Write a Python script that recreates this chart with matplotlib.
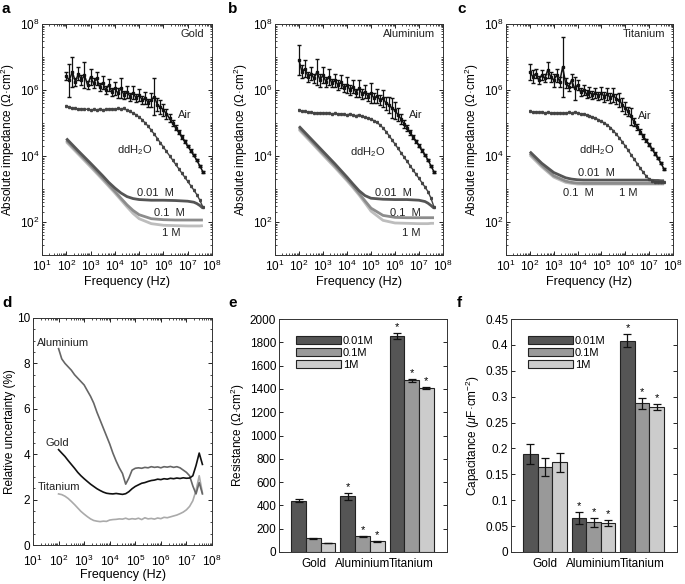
import numpy as np
import matplotlib
matplotlib.use('Agg')
import matplotlib.pyplot as plt
from matplotlib.ticker import LogLocator, NullFormatter, MultipleLocator, FixedLocator

plt.rcParams['font.family'] = ['Liberation Sans', 'DejaVu Sans']
plt.rcParams['mathtext.fontset'] = 'custom'
plt.rcParams['mathtext.rm'] = 'Liberation Sans'
plt.rcParams['mathtext.it'] = 'Liberation Sans:italic'
plt.rcParams['font.size'] = 8

# ---- data -------------------------------------------------------------
# measurement grid (Hz), 8 points per decade
freq = [100, 133, 178, 237, 316, 422, 562, 750,
        1e3, 1.33e3, 1.78e3, 2.37e3, 3.16e3, 4.22e3, 5.62e3, 7.5e3,
        1e4, 1.33e4, 1.78e4, 2.37e4, 3.16e4, 4.22e4, 5.62e4, 7.5e4,
        1e5, 1.33e5, 1.78e5, 2.37e5, 3.16e5, 4.22e5, 5.62e5, 7.5e5,
        1e6, 1.33e6, 1.78e6, 2.37e6, 3.16e6, 4.22e6, 5.62e6, 7.5e6,
        1e7, 1.33e7, 1.78e7, 2.37e7, 3.16e7, 4.22e7]
# coarser grid for the smooth electrolyte curves
freq_el = [100, 316, 1e3, 3.16e3, 5.62e3, 1e4, 1.78e4, 3.16e4, 5.62e4,
           1e5, 3.16e5, 1e6, 3.16e6, 1e7, 1.78e7, 2.37e7, 3.16e7, 4.22e7]

# log10 |Z| (Ohm.cm2), error bars in decades
air_gold = [6.42, 6.30, 6.55, 6.25, 6.50, 6.30, 6.45, 6.15, 6.40, 6.20, 6.35, 6.10,
            6.22, 6.00, 6.15, 5.95, 6.05, 5.90, 6.05, 5.85, 5.95, 5.80, 5.92, 5.75,
            5.85, 5.70, 5.75, 5.62, 5.70, 5.80, 5.55, 5.48, 5.40, 5.28, 5.14, 5.00,
            4.86, 4.72, 4.58, 4.44, 4.30, 4.16, 4.02, 3.87, 3.70, 3.52]
air_gold_err = [0.12, 0.50, 0.45, 0.12, 0.20, 0.15, 0.40, 0.12, 0.25, 0.15, 0.20, 0.12,
                0.20, 0.12, 0.18, 0.12, 0.20, 0.15, 0.30, 0.12, 0.18, 0.12, 0.20, 0.12,
                0.18, 0.12, 0.18, 0.12, 0.20, 0.55, 0.20, 0.22, 0.18, 0.15, 0.12, 0.08,
                0.07, 0.06, 0.05, 0.05, 0.04, 0.04, 0.03, 0.03, 0.03, 0.03]
air_alu = [6.90, 6.55, 6.65, 6.40, 6.50, 6.35, 6.55, 6.30, 6.45, 6.25, 6.40, 6.20,
           6.30, 6.15, 6.25, 6.05, 6.15, 6.00, 6.10, 5.92, 6.05, 5.88, 5.95, 5.80,
           5.90, 5.75, 5.82, 5.70, 5.75, 5.60, 5.55, 5.45, 5.38, 5.25, 5.12, 4.98,
           4.85, 4.72, 4.58, 4.45, 4.31, 4.17, 4.03, 3.88, 3.70, 3.52]
air_alu_err = [0.45, 0.20, 0.25, 0.15, 0.20, 0.15, 0.40, 0.20, 0.25, 0.15, 0.25, 0.12,
               0.20, 0.15, 0.20, 0.12, 0.25, 0.15, 0.20, 0.12, 0.25, 0.15, 0.20, 0.12,
               0.30, 0.15, 0.20, 0.15, 0.25, 0.20, 0.25, 0.30, 0.25, 0.20, 0.15, 0.12,
               0.10, 0.08, 0.06, 0.05, 0.05, 0.04, 0.04, 0.03, 0.03, 0.03]
air_ti = [6.55, 6.40, 6.50, 6.30, 6.45, 6.35, 6.60, 6.40, 6.30, 6.45, 6.25, 6.70,
          6.20, 6.10, 6.30, 6.05, 6.15, 5.95, 6.00, 5.88, 5.95, 5.85, 5.92, 5.82,
          5.90, 5.80, 5.88, 5.75, 5.85, 5.72, 5.70, 5.55, 5.45, 5.35, 5.20, 5.02,
          4.88, 4.74, 4.60, 4.47, 4.34, 4.21, 4.07, 3.93, 3.78, 3.60]
air_ti_err = [0.25, 0.20, 0.15, 0.12, 0.15, 0.12, 0.25, 0.15, 0.20, 0.20, 0.15, 0.90,
              0.15, 0.12, 0.20, 0.35, 0.15, 0.12, 0.15, 0.12, 0.15, 0.12, 0.15, 0.12,
              0.18, 0.15, 0.18, 0.15, 0.20, 0.15, 0.20, 0.20, 0.18, 0.15, 0.25, 0.12,
              0.10, 0.08, 0.07, 0.05, 0.05, 0.04, 0.04, 0.03, 0.03, 0.03]

ddh2o_gold = [5.52, 5.48, 5.45, 5.44, 5.42, 5.43, 5.41, 5.42, 5.40, 5.41, 5.40, 5.42,
              5.40, 5.41, 5.42, 5.43, 5.41, 5.44, 5.42, 5.45, 5.38, 5.35, 5.30, 5.25,
              5.18, 5.10, 5.00, 4.90, 4.78, 4.66, 4.53, 4.40, 4.27, 4.14, 4.01, 3.88,
              3.75, 3.62, 3.49, 3.36, 3.23, 3.10, 2.97, 2.83, 2.66, 2.45]
ddh2o_alu = [5.40, 5.36, 5.35, 5.33, 5.32, 5.31, 5.30, 5.31, 5.30, 5.29, 5.30, 5.28,
             5.29, 5.27, 5.28, 5.26, 5.25, 5.27, 5.24, 5.22, 5.25, 5.20, 5.17, 5.15,
             5.12, 5.07, 5.02, 4.94, 4.85, 4.74, 4.62, 4.49, 4.36, 4.23, 4.10, 3.97,
             3.84, 3.71, 3.58, 3.45, 3.32, 3.19, 3.06, 2.92, 2.72, 2.45]
ddh2o_ti = [5.35, 5.33, 5.34, 5.32, 5.33, 5.31, 5.32, 5.30, 5.31, 5.30, 5.31, 5.29,
            5.30, 5.32, 5.29, 5.33, 5.30, 5.28, 5.27, 5.25, 5.22, 5.18, 5.15, 5.10,
            5.05, 5.00, 4.94, 4.86, 4.77, 4.66, 4.55, 4.43, 4.30, 4.17, 4.03, 3.90,
            3.77, 3.63, 3.51, 3.39, 3.30, 3.25, 3.22, 3.21, 3.20, 3.20]
ddh2o_err = 0.03

gold_001 = [4.53, 4.15, 3.78, 3.40, 3.20, 3.03, 2.88, 2.77, 2.71, 2.68, 2.66, 2.66, 2.65, 2.63, 2.60, 2.56, 2.50, 2.42]
gold_01 = [4.48, 4.10, 3.72, 3.33, 3.13, 2.93, 2.72, 2.52, 2.35, 2.22, 2.10, 2.07, 2.06, 2.06, 2.06, 2.06, 2.06, 2.06]
gold_1 = [4.43, 4.05, 3.67, 3.28, 3.08, 2.88, 2.67, 2.46, 2.26, 2.10, 1.95, 1.90, 1.89, 1.88, 1.88, 1.88, 1.88, 1.89]
alu_001 = [4.90, 4.52, 4.14, 3.76, 3.56, 3.36, 3.15, 2.95, 2.80, 2.72, 2.69, 2.68, 2.68, 2.66, 2.62, 2.57, 2.50, 2.42]
alu_01 = [4.85, 4.47, 4.08, 3.70, 3.50, 3.30, 3.09, 2.87, 2.64, 2.42, 2.20, 2.14, 2.13, 2.13, 2.13, 2.13, 2.13, 2.13]
alu_1 = [4.80, 4.42, 4.03, 3.65, 3.45, 3.25, 3.04, 2.82, 2.58, 2.33, 2.05, 1.97, 1.96, 1.95, 1.95, 1.95, 1.96, 1.96]
ti_001 = [4.13, 3.78, 3.50, 3.34, 3.30, 3.28, 3.27, 3.27, 3.27, 3.27, 3.27, 3.27, 3.27, 3.27, 3.26, 3.26, 3.25, 3.25]
ti_01 = [4.08, 3.72, 3.40, 3.24, 3.20, 3.18, 3.17, 3.17, 3.17, 3.17, 3.17, 3.17, 3.17, 3.17, 3.17, 3.17, 3.17, 3.17]
ti_1 = [4.03, 3.67, 3.36, 3.20, 3.17, 3.15, 3.15, 3.15, 3.15, 3.15, 3.15, 3.15, 3.15, 3.15, 3.15, 3.15, 3.15, 3.15]

# relative uncertainty (%)
unc_alu = [8.65, 8.20, 8.00, 7.85, 7.70, 7.50, 7.35, 7.20, 7.05, 6.80, 6.55, 6.25,
           5.85, 5.50, 5.15, 4.80, 4.45, 4.05, 3.70, 3.40, 3.15, 2.68, 2.95, 3.30,
           3.38, 3.40, 3.38, 3.42, 3.40, 3.45, 3.42, 3.44, 3.40, 3.45, 3.43, 3.46,
           3.42, 3.45, 3.40, 3.30, 3.20, 3.05, 2.60, 2.25, 2.75, 2.25]
unc_gold = [4.20, 4.05, 3.90, 3.72, 3.55, 3.38, 3.20, 3.05, 2.92, 2.80, 2.68, 2.58,
            2.48, 2.40, 2.33, 2.28, 2.26, 2.25, 2.27, 2.25, 2.23, 2.26, 2.35, 2.48,
            2.58, 2.65, 2.72, 2.75, 2.80, 2.84, 2.86, 2.90, 2.88, 2.92, 2.90, 2.94,
            2.92, 2.95, 2.93, 2.96, 2.94, 2.95, 3.05, 3.50, 4.05, 3.55]
unc_ti = [2.25, 2.22, 2.15, 2.05, 1.92, 1.78, 1.63, 1.48, 1.36, 1.25, 1.15, 1.08,
          1.05, 1.03, 1.05, 1.04, 1.10, 1.12, 1.13, 1.15, 1.14, 1.18, 1.13, 1.16,
          1.14, 1.18, 1.12, 1.20, 1.15, 1.17, 1.14, 1.19, 1.16, 1.22, 1.20, 1.24,
          1.28, 1.32, 1.38, 1.45, 1.55, 1.70, 1.95, 2.40, 3.05, 2.30]

metals = ['Gold', 'Aluminium', 'Titanium']
conc_labels = ['0.01M', '0.1M', '1M']
res_001 = [440, 480, 1855]
res_001_err = [15, 30, 25]
res_01 = [118, 135, 1475]
res_01_err = [3, 5, 12]
res_1 = [77, 91, 1405]
res_1_err = [3, 5, 8]
cap_001 = [0.189, 0.066, 0.408]
cap_001_err = [0.019, 0.011, 0.013]
cap_01 = [0.164, 0.057, 0.287]
cap_01_err = [0.018, 0.008, 0.010]
cap_1 = [0.173, 0.056, 0.280]
cap_1_err = [0.019, 0.006, 0.005]
significant = [False, True, True]

# ---- figure -------------------------------------------------------------
W, H = 685, 584
fig = plt.figure(figsize=(W / 100, H / 100), dpi=100)


def axes_px(left, right, top, bottom):
    return fig.add_axes([left / W, 1 - bottom / H, (right - left) / W, (bottom - top) / H])


def style_log_x(ax):
    ax.set_xscale('log')
    ax.set_xlim(1e1, 1e8)
    ax.xaxis.set_major_locator(FixedLocator([10.0 ** k for k in range(1, 9)]))
    ax.xaxis.set_minor_locator(LogLocator(base=10, subs=np.arange(2, 10), numticks=20))
    ax.xaxis.set_minor_formatter(NullFormatter())
    ax.set_xlabel('Frequency (Hz)', fontsize=9, labelpad=1)


def frame(ax):
    ax.tick_params(which='both', direction='in', top=True, right=True, labelsize=8.5, pad=2)
    ax.tick_params(which='major', length=3, width=0.6)
    ax.tick_params(which='minor', length=1.5, width=0.5)
    for s in ax.spines.values():
        s.set_linewidth(0.7)
        s.set_color('#333333')


def log_err(vals, errs):
    v = 10.0 ** np.array(vals)
    e = np.array(errs)
    return v, [v - v / 10.0 ** e, v * 10.0 ** e - v]


def impedance(ax, air, air_err, ddh2o, el, name, lab):
    style_log_x(ax)
    ax.set_yscale('log')
    ax.set_ylim(1e1, 1e8)
    ax.yaxis.set_major_locator(FixedLocator([1e2, 1e4, 1e6, 1e8]))
    ax.yaxis.set_minor_locator(LogLocator(base=10, subs=np.arange(1, 10), numticks=20))
    ax.yaxis.set_minor_formatter(NullFormatter())
    ax.set_ylabel('Absolute impedance (Ω·cm$^2$)', fontsize=8.5, labelpad=2)
    frame(ax)
    ax.tick_params(axis='x', pad=3)
    cols = ['#555555', '#8c8c8c', '#bdbdbd']
    for series, c in zip(el[::-1], cols[::-1]):
        ax.plot(freq_el, 10.0 ** np.array(series), color=c, lw=2.0, solid_capstyle='butt')
    v, e = log_err(ddh2o, [ddh2o_err] * len(ddh2o))
    ax.errorbar(freq, v, yerr=e, color='#444444', lw=1.0, elinewidth=0.6, capsize=1.0,
                marker='s', ms=1.2)
    v, e = log_err(air, air_err)
    ax.errorbar(freq, v, yerr=e, color='#111111', lw=1.1, elinewidth=0.9, capsize=1.6,
                marker='s', ms=1.5)
    ax.text(0.955, 0.955, name, transform=ax.transAxes, ha='right', va='center',
            fontsize=8, color='#222222')
    for txt, (lx, ly) in lab.items():
        ax.text(10 ** lx, 10 ** ly, txt, ha='left', va='center', fontsize=8, color='#222222')


ax_a = axes_px(42, 212, 24, 255)
impedance(ax_a, air_gold, air_gold_err, ddh2o_gold, [gold_001, gold_01, gold_1], 'Gold',
          {'Air': (6.6, 5.24), 'ddH$_2$O': (4.1, 4.18), '0.01  M': (4.9, 2.88),
           '0.1  M': (5.6, 2.27), '1 M': (5.95, 1.67)})
ax_b = axes_px(275, 443, 24, 255)
impedance(ax_b, air_alu, air_alu_err, ddh2o_alu, [alu_001, alu_01, alu_1], 'Aluminium',
          {'Air': (6.6, 5.24), 'ddH$_2$O': (4.13, 4.12), '0.01  M': (5.15, 2.88),
           '0.1  M': (5.8, 2.27), '1 M': (6.3, 1.67)})
ax_c = axes_px(506, 673, 24, 255)
impedance(ax_c, air_ti, air_ti_err, ddh2o_ti, [ti_001, ti_01, ti_1], 'Titanium',
          {'Air': (6.55, 5.2), 'ddH$_2$O': (4.07, 4.18), '0.01  M': (4.03, 3.48),
           '0.1  M': (3.4, 2.88), '1 M': (5.73, 2.88)})

# d: relative uncertainty
ax_d = axes_px(33, 212, 318, 545)
style_log_x(ax_d)
ax_d.set_ylim(0, 10)
ax_d.yaxis.set_major_locator(MultipleLocator(2))
ax_d.yaxis.set_minor_locator(MultipleLocator(0.5))
ax_d.set_ylabel('Relative uncertainty (%)', fontsize=8.5, labelpad=1)
ax_d.set_xlabel('Frequency (Hz)', fontsize=9, labelpad=0)
frame(ax_d)
ax_d.tick_params(axis='x', pad=6)
ax_d.tick_params(axis='y', labelsize=8.5)
ax_d.plot(freq, unc_ti, color='#aaaaaa', lw=1.2)
ax_d.plot(freq, unc_alu, color='#666666', lw=1.2)
ax_d.plot(freq, unc_gold, color='#111111', lw=1.2)
ax_d.text(10 ** 1.16, 8.9, 'Aluminium', fontsize=8, color='#222222', va='center')
ax_d.text(10 ** 1.5, 4.5, 'Gold', fontsize=8, color='#222222', va='center')
ax_d.text(10 ** 1.18, 2.55, 'Titanium', fontsize=8, color='#222222', va='center')

bar_cols = ['#555555', '#999999', '#cccccc']
x = np.arange(1, 4)


def bars(ax, means, errs, ylabel, ymax, step, star_pad, fmt):
    ax.set_xlim(0.3, 3.72)
    ax.set_ylim(0, ymax)
    handles = []
    for k, (m, e, c) in enumerate(zip(means, errs, bar_cols)):
        xs = x + (k - 1) * 0.3
        h = ax.bar(xs, m, width=0.3, color=c, edgecolor='#222222', linewidth=0.8,
                   label=conc_labels[k])
        ax.errorbar(xs, m, yerr=e, fmt='none', ecolor='#111111', elinewidth=0.9, capsize=3,
                    capthick=0.9)
        for xi, mi, ei, s in zip(xs, m, e, significant):
            if s:
                ax.text(xi, mi + ei + star_pad, '*', ha='center', va='bottom', fontsize=8)
        handles.append(h)
    ax.set_xticks(x)
    ax.set_xticklabels(metals, fontsize=9)
    ticks = np.arange(0, ymax + step / 2, step)
    ax.set_yticks(ticks)
    ax.set_yticklabels([fmt(t) for t in ticks])
    ax.set_ylabel(ylabel, fontsize=8.5, labelpad=2)
    frame(ax)
    ax.tick_params(axis='x', length=0, pad=4)
    ax.legend(handles=handles, loc='upper left', bbox_to_anchor=(0.07, 0.95), frameon=False,
              handlelength=4.0, handleheight=0.75, labelspacing=0.15, handletextpad=0.2,
              borderpad=0, fontsize=8)


ax_e = axes_px(279, 447, 319, 552)
bars(ax_e, [res_001, res_01, res_1], [res_001_err, res_01_err, res_1_err],
     'Resistance (Ω·cm$^2$)', 2000, 200, 8, lambda t: '%d' % t)
ax_f = axes_px(511, 677, 319, 552)
bars(ax_f, [cap_001, cap_01, cap_1], [cap_001_err, cap_01_err, cap_1_err],
     r'Capacitance ($\mu$F·cm$^{-2}$)', 0.45, 0.05, 0.002,
     lambda t: ('%.2f' % t).rstrip('0').rstrip('.') if t > 0 else '0')

for letter, px, py in [('a', 2, 2), ('b', 228, 2), ('c', 457, 2),
                       ('d', 2, 296), ('e', 228, 296), ('f', 457, 296)]:
    fig.text(px / W, 1 - py / H, letter, fontsize=11, fontweight='bold', va='top', ha='left')

fig.savefig('out.png', dpi=100)
